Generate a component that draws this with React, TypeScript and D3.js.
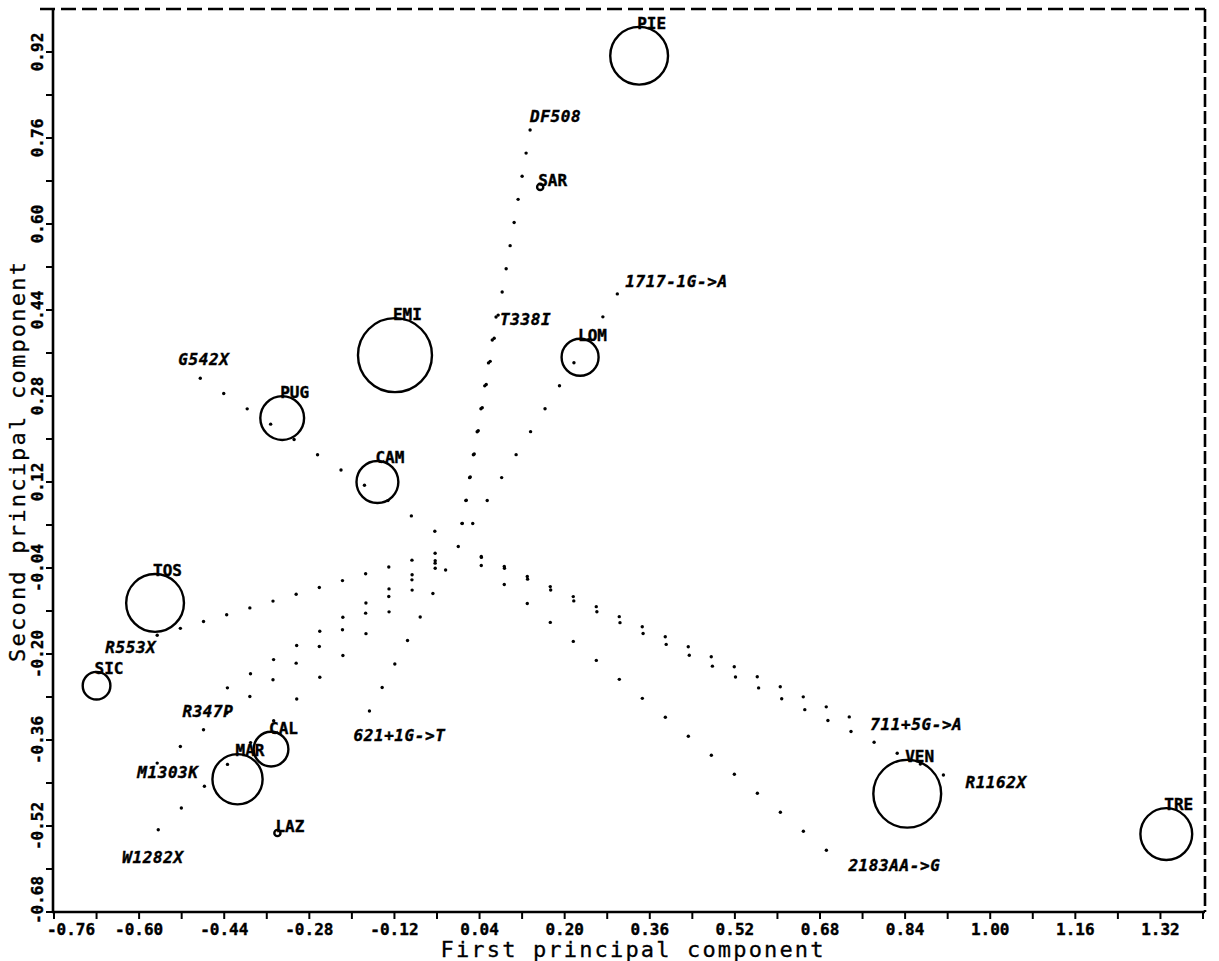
import React from 'react';
import * as d3 from 'd3';

// ---------- data ----------
const regionNames = ['PIE', 'SAR', 'EMI', 'LOM', 'PUG', 'CAM', 'TOS', 'SIC', 'CAL', 'MAR', 'LAZ', 'VEN', 'TRE'];
const regionPC1 = [0.340, 0.154, -0.119, 0.229, -0.331, -0.152, -0.570, -0.680, -0.352, -0.415, -0.340, 0.844, 1.331];
const regionPC2 = [0.913, 0.669, 0.356, 0.352, 0.239, 0.120, -0.105, -0.259, -0.377, -0.433, -0.533, -0.460, -0.535];
const regionWeight = [61, 0.7, 100, 25, 35, 32, 61, 14, 22, 46, 0.7, 84, 49];

const mutationNames = ['DF508', 'T338I', '1717-1G->A', 'G542X', 'R553X', 'R347P', 'M1303K', 'W1282X', '621+1G->T', '711+5G->A', 'R1162X', '2183AA->G'];
const mutationPC1 = [0.135, 0.071, 0.299, -0.485, -0.566, -0.434, -0.566, -0.564, -0.167, 0.735, 0.912, 0.692];
const mutationPC2 = [0.775, 0.427, 0.470, 0.313, -0.165, -0.263, -0.403, -0.527, -0.306, -0.317, -0.425, -0.565];

const xTickLabels = ['-0.76', '-0.60', '-0.44', '-0.28', '-0.12', '0.04', '0.20', '0.36', '0.52', '0.68', '0.84', '1.00', '1.16', '1.32'];
const yTickLabels = ['0.92', '0.76', '0.60', '0.44', '0.28', '0.12', '-0.04', '-0.20', '-0.36', '-0.52', '-0.68'];

// ---------- layout (label placement relative to the vector tip, px) ----------
const mutationLabelOffset: [number, number][] = [
  [0, -8], [4, 8], [8, -7], [-22, -13], [-52, 18], [-45, 29],
  [-20, 15], [-36, 33], [-16, 30], [21, 13], [22, 13], [22, 21],
];

const W = 1219;
const H = 961;
const LEFT = 53;
const RIGHT = 1205;
const TOP = 9;
const BOTTOM = 912;
const FONT = "'DejaVu Sans Mono', 'Liberation Mono', monospace";

export default function App() {
  const x = d3.scaleLinear().domain([-0.76, 1.40]).range([54, 1203]);
  const y = d3.scaleLinear().domain([-0.68, 1.0]).range([BOTTOM, TOP]);
  const r = d3.scaleSqrt().domain([0, 100]).range([0, 37]);

  const xMajor = xTickLabels.map((t) => +t);
  const xMinor = xMajor.map((v) => v + 0.08);
  const yMajor = yTickLabels.map((t) => +t);
  const yMinor = yMajor.map((v) => v + 0.08);

  const ox = x(0);
  const oy = y(0);
  const step = 23.2;
  const dots: { cx: number; cy: number; k: string }[] = [{ cx: ox, cy: oy, k: 'o' }];
  mutationNames.forEach((m, j) => {
    const ex = x(mutationPC1[j]);
    const ey = y(mutationPC2[j]);
    const n = Math.max(1, Math.round(Math.max(Math.abs(ex - ox), Math.abs(ey - oy)) / step));
    for (let i = 1; i <= n; i++) {
      dots.push({ cx: ox + ((ex - ox) * i) / n, cy: oy + ((ey - oy) * i) / n, k: m + i });
    }
  });

  const tickStyle = { fontFamily: FONT, fontWeight: 'bold' as const, fontSize: 16, stroke: '#000', strokeWidth: 0.4 };

  return (
    <svg width={W} height={H} style={{ position: 'absolute', left: 0, top: 0, background: '#fff' }}>
      <rect x={0} y={0} width={W} height={H} fill="#fff" />
      {/* frame */}
      <line x1={40} y1={TOP} x2={RIGHT} y2={TOP} stroke="#000" strokeWidth={2.6} strokeDasharray="15 6" />
      <line x1={RIGHT} y1={TOP} x2={RIGHT} y2={BOTTOM} stroke="#000" strokeWidth={2.6} strokeDasharray="13 4" />
      <line x1={LEFT} y1={TOP} x2={LEFT} y2={BOTTOM + 1} stroke="#000" strokeWidth={2.6} />
      <line x1={LEFT - 1} y1={BOTTOM} x2={RIGHT} y2={BOTTOM} stroke="#000" strokeWidth={2.6} />

      {/* x ticks */}
      {[...xMajor, ...xMinor].map((v, i) => (
        <line key={'xt' + i} x1={x(v)} x2={x(v)} y1={BOTTOM} y2={BOTTOM + 7} stroke="#000" strokeWidth={2} />
      ))}
      {xTickLabels.map((t, i) => (
        <text key={'xl' + i} x={Math.max(x(xMajor[i]), 71)} y={935} textAnchor="middle" {...tickStyle}>
          {t}
        </text>
      ))}
      {/* y ticks */}
      {[...yMajor, ...yMinor].map((v, i) => (
        <line key={'yt' + i} x1={LEFT - 7} x2={LEFT} y1={y(v)} y2={y(v)} stroke="#000" strokeWidth={2} />
      ))}
      {yTickLabels.map((t, i) => (
        <text
          key={'yl' + i}
          transform={`translate(43,${Math.min(y(yMajor[i]), 900)}) rotate(-90)`}
          textAnchor="middle"
          {...tickStyle}
        >
          {t}
        </text>
      ))}

      {/* axis titles */}
      <text x={632} y={957} textAnchor="middle" fontFamily={FONT} fontSize={22} textLength={383} lengthAdjust="spacing" stroke="#000" strokeWidth={0.3}>
        First principal component
      </text>
      <text
        transform="translate(25,462) rotate(-90)"
        textAnchor="middle"
        fontFamily={FONT}
        fontSize={22}
        textLength={400}
        lengthAdjust="spacing"
        stroke="#000"
        strokeWidth={0.3}
      >
        Second principal component
      </text>

      {/* dotted vectors */}
      {dots.map((d) => (
        <circle key={d.k} cx={d.cx} cy={d.cy} r={1.7} fill="#000" />
      ))}

      {/* mutation labels */}
      {mutationNames.map((m, j) => (
        <text
          key={'ml' + m}
          x={x(mutationPC1[j]) + mutationLabelOffset[j][0]}
          y={y(mutationPC2[j]) + mutationLabelOffset[j][1]}
          fontFamily={FONT}
          fontWeight="bold"
          fontStyle="italic"
          fontSize={16}
          letterSpacing={0.6}
          stroke="#000"
          strokeWidth={0.4}
        >
          {m}
        </text>
      ))}

      {/* regions */}
      {regionNames.map((name, i) => {
        const cx = x(regionPC1[i]);
        const cy = y(regionPC2[i]);
        const rr = r(regionWeight[i]);
        return (
          <g key={'rg' + name}>
            <circle cx={cx} cy={cy} r={rr} fill="none" stroke="#000" strokeWidth={2.4} />
            <text x={cx - 2} y={cy - rr + 2} fontFamily={FONT} fontWeight="bold" fontSize={16} stroke="#000" strokeWidth={0.4}>
              {name}
            </text>
          </g>
        );
      })}
    </svg>
  );
}
